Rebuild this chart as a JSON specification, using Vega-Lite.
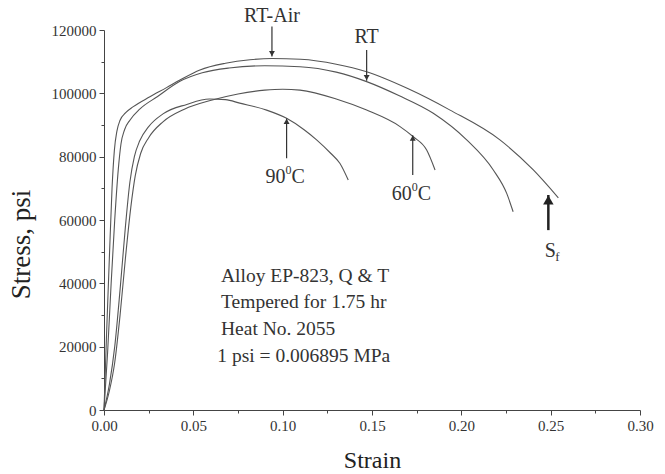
{
  "$schema": "https://vega.github.io/schema/vega-lite/v6.json",
  "width": 536,
  "height": 380,
  "autosize": {"type": "none"},
  "padding": {"left": 104, "top": 30, "right": 25, "bottom": 64},
  "background": "white",
  "config": {
    "view": {"stroke": null},
    "axis": {
      "domainColor": "#444",
      "tickColor": "#444",
      "labelColor": "#333",
      "titleColor": "#222",
      "labelFont": "Liberation Serif",
      "titleFont": "Liberation Serif",
      "titleFontWeight": "normal",
      "grid": false
    },
    "text": {"font": "Liberation Serif", "color": "#333"}
  },
  "datasets": {
    "curves": [
      {"series": "RT-Air", "strain": 0, "stress": 0},
      {"series": "RT-Air", "strain": 0.0015, "stress": 25000},
      {"series": "RT-Air", "strain": 0.003, "stress": 48000},
      {"series": "RT-Air", "strain": 0.0045, "stress": 70000},
      {"series": "RT-Air", "strain": 0.0058, "stress": 82000},
      {"series": "RT-Air", "strain": 0.0072, "stress": 88000},
      {"series": "RT-Air", "strain": 0.009, "stress": 91500},
      {"series": "RT-Air", "strain": 0.012, "stress": 93800},
      {"series": "RT-Air", "strain": 0.0164, "stress": 95800},
      {"series": "RT-Air", "strain": 0.0257, "stress": 98900},
      {"series": "RT-Air", "strain": 0.035, "stress": 101800},
      {"series": "RT-Air", "strain": 0.0425, "stress": 104200},
      {"series": "RT-Air", "strain": 0.0537, "stress": 107400},
      {"series": "RT-Air", "strain": 0.068, "stress": 109500},
      {"series": "RT-Air", "strain": 0.0817, "stress": 110600},
      {"series": "RT-Air", "strain": 0.094, "stress": 111000},
      {"series": "RT-Air", "strain": 0.11, "stress": 110750},
      {"series": "RT-Air", "strain": 0.13, "stress": 109200},
      {"series": "RT-Air", "strain": 0.147, "stress": 106800},
      {"series": "RT-Air", "strain": 0.17, "stress": 101500},
      {"series": "RT-Air", "strain": 0.1937, "stress": 94700},
      {"series": "RT-Air", "strain": 0.2216, "stress": 85300},
      {"series": "RT-Air", "strain": 0.2403, "stress": 75800},
      {"series": "RT-Air", "strain": 0.2543, "stress": 67000},

      {"series": "RT", "strain": 0, "stress": 0},
      {"series": "RT", "strain": 0.002, "stress": 18000},
      {"series": "RT", "strain": 0.004, "stress": 40000},
      {"series": "RT", "strain": 0.006, "stress": 60000},
      {"series": "RT", "strain": 0.008, "stress": 76000},
      {"series": "RT", "strain": 0.0095, "stress": 84000},
      {"series": "RT", "strain": 0.0115, "stress": 88500},
      {"series": "RT", "strain": 0.0146, "stress": 91600},
      {"series": "RT", "strain": 0.02, "stress": 95000},
      {"series": "RT", "strain": 0.03, "stress": 99000},
      {"series": "RT", "strain": 0.0425, "stress": 103800},
      {"series": "RT", "strain": 0.055, "stress": 106500},
      {"series": "RT", "strain": 0.07, "stress": 108000},
      {"series": "RT", "strain": 0.09, "stress": 108700},
      {"series": "RT", "strain": 0.1097, "stress": 108400},
      {"series": "RT", "strain": 0.13, "stress": 106700},
      {"series": "RT", "strain": 0.147, "stress": 103700},
      {"series": "RT", "strain": 0.165, "stress": 99300},
      {"series": "RT", "strain": 0.1843, "stress": 93700},
      {"series": "RT", "strain": 0.203, "stress": 85300},
      {"series": "RT", "strain": 0.2179, "stress": 75800},
      {"series": "RT", "strain": 0.2254, "stress": 68400},
      {"series": "RT", "strain": 0.229, "stress": 62600},

      {"series": "60C", "strain": 0, "stress": 0},
      {"series": "60C", "strain": 0.003, "stress": 6000},
      {"series": "60C", "strain": 0.006, "stress": 15000},
      {"series": "60C", "strain": 0.009, "stress": 30000},
      {"series": "60C", "strain": 0.012, "stress": 48000},
      {"series": "60C", "strain": 0.015, "stress": 64000},
      {"series": "60C", "strain": 0.0175, "stress": 74000},
      {"series": "60C", "strain": 0.0205, "stress": 81000},
      {"series": "60C", "strain": 0.025, "stress": 86000},
      {"series": "60C", "strain": 0.033, "stress": 91000},
      {"series": "60C", "strain": 0.045, "stress": 95000},
      {"series": "60C", "strain": 0.06, "stress": 97800},
      {"series": "60C", "strain": 0.075, "stress": 99800},
      {"series": "60C", "strain": 0.09, "stress": 101000},
      {"series": "60C", "strain": 0.1, "stress": 101300},
      {"series": "60C", "strain": 0.1097, "stress": 101000},
      {"series": "60C", "strain": 0.13, "stress": 98200},
      {"series": "60C", "strain": 0.147, "stress": 94700},
      {"series": "60C", "strain": 0.1657, "stress": 89500},
      {"series": "60C", "strain": 0.1731, "stress": 86300},
      {"series": "60C", "strain": 0.1806, "stress": 82100},
      {"series": "60C", "strain": 0.1853, "stress": 75800},

      {"series": "90C", "strain": 0, "stress": 0},
      {"series": "90C", "strain": 0.003, "stress": 8000},
      {"series": "90C", "strain": 0.006, "stress": 20000},
      {"series": "90C", "strain": 0.009, "stress": 38000},
      {"series": "90C", "strain": 0.012, "stress": 58000},
      {"series": "90C", "strain": 0.0145, "stress": 72000},
      {"series": "90C", "strain": 0.017, "stress": 80000},
      {"series": "90C", "strain": 0.02, "stress": 85000},
      {"series": "90C", "strain": 0.025, "stress": 89500},
      {"series": "90C", "strain": 0.033, "stress": 93500},
      {"series": "90C", "strain": 0.0463, "stress": 96500},
      {"series": "90C", "strain": 0.059, "stress": 98200},
      {"series": "90C", "strain": 0.068, "stress": 98000},
      {"series": "90C", "strain": 0.076, "stress": 96900},
      {"series": "90C", "strain": 0.091, "stress": 94700},
      {"series": "90C", "strain": 0.1022, "stress": 92100},
      {"series": "90C", "strain": 0.112, "stress": 88500},
      {"series": "90C", "strain": 0.119, "stress": 85300},
      {"series": "90C", "strain": 0.127, "stress": 81000},
      {"series": "90C", "strain": 0.132, "stress": 77900},
      {"series": "90C", "strain": 0.1367, "stress": 72600}
    ],
    "arrowsDown": [
      {"label": "RT-Air", "strain": 0.094, "from": 121100, "to": 111600},
      {"label": "RT", "strain": 0.147, "from": 113700, "to": 104000}
    ],
    "arrowsUp": [
      {"label": "90C", "strain": 0.1022, "from": 79500, "to": 92100},
      {"label": "60C", "strain": 0.1728, "from": 74200, "to": 86800}
    ],
    "labels": [
      {"text": "RT-Air", "strain": 0.094, "stress": 122600},
      {"text": "RT", "strain": 0.147, "stress": 115800}
    ],
    "temps": [
      {"num": "90", "sup": "0", "unit": "C", "strain": 0.1022, "stress": 71600},
      {"num": "60", "sup": "0", "unit": "C", "strain": 0.1728, "stress": 66300}
    ],
    "notes": [
      {"text": "Alloy EP-823, Q & T", "strain": 0.0655, "stress": 40400},
      {"text": "Tempered for 1.75 hr", "strain": 0.0655, "stress": 32200},
      {"text": "Heat No. 2055", "strain": 0.0655, "stress": 23700},
      {"text": "1 psi = 0.006895 MPa", "strain": 0.0634, "stress": 15200}
    ],
    "sf": [
      {"strain": 0.2487, "from": 56800, "to": 67900, "label": 48400, "main": "S", "sub": "f"}
    ]
  },
  "resolve": {"axis": {"x": "independent", "y": "independent"}},
  "layer": [
    {
      "data": {"name": "curves"},
      "mark": {"type": "line", "color": "#555", "strokeWidth": 1.1, "interpolate": "monotone", "clip": false},
      "encoding": {
        "x": {
          "field": "strain", "type": "quantitative",
          "scale": {"domain": [0, 0.3], "nice": false, "zero": false},
          "axis": {
            "values": [0, 0.05, 0.1, 0.15, 0.2, 0.25, 0.3],
            "format": ".2f", "labelFontSize": 15, "tickSize": 5, "labelPadding": 3,
            "title": "Strain", "titleFontSize": 24, "titlePadding": 15, "labelFlush": false
          }
        },
        "y": {
          "field": "stress", "type": "quantitative",
          "scale": {"domain": [0, 120000], "nice": false},
          "axis": {
            "values": [0, 20000, 40000, 60000, 80000, 100000, 120000],
            "format": "d", "labelFontSize": 15, "tickSize": 5, "labelPadding": 3,
            "title": "Stress, psi", "titleFontSize": 27, "titlePadding": 16, "titleY": 214
          }
        },
        "detail": {"field": "series"}
      }
    },
    {
      "data": {"name": "arrowsDown"},
      "mark": {"type": "rule", "color": "#333", "strokeWidth": 1.2},
      "encoding": {
        "x": {
          "field": "strain", "type": "quantitative",
          "axis": {
            "values": [0.025, 0.075, 0.125, 0.175, 0.225, 0.275],
            "labels": false, "domain": false, "tickSize": 3, "title": null, "orient": "bottom"
          }
        },
        "y": {
          "field": "from", "type": "quantitative",
          "axis": {
            "values": [10000, 30000, 50000, 70000, 90000, 110000],
            "labels": false, "domain": false, "tickSize": 3, "title": null, "orient": "left"
          }
        },
        "y2": {"field": "to"}
      }
    },
    {
      "data": {"name": "arrowsDown"},
      "mark": {"type": "point", "shape": "triangle-down", "filled": true, "color": "#333", "size": 35, "opacity": 1, "yOffset": -3},
      "encoding": {
        "x": {"field": "strain", "type": "quantitative", "axis": null},
        "y": {"field": "to", "type": "quantitative", "axis": null}
      }
    },
    {
      "data": {"name": "arrowsUp"},
      "mark": {"type": "rule", "color": "#333", "strokeWidth": 1.2},
      "encoding": {
        "x": {"field": "strain", "type": "quantitative", "axis": null},
        "y": {"field": "from", "type": "quantitative", "axis": null},
        "y2": {"field": "to"}
      }
    },
    {
      "data": {"name": "arrowsUp"},
      "mark": {"type": "point", "shape": "triangle-up", "filled": true, "color": "#333", "size": 35, "opacity": 1, "yOffset": 3},
      "encoding": {
        "x": {"field": "strain", "type": "quantitative", "axis": null},
        "y": {"field": "to", "type": "quantitative", "axis": null}
      }
    },
    {
      "data": {"name": "sf"},
      "mark": {"type": "rule", "color": "#222", "strokeWidth": 2.5},
      "encoding": {
        "x": {"field": "strain", "type": "quantitative", "axis": null},
        "y": {"field": "from", "type": "quantitative", "axis": null},
        "y2": {"field": "to"}
      }
    },
    {
      "data": {"name": "sf"},
      "mark": {"type": "point", "shape": "triangle-up", "filled": true, "color": "#222", "size": 110, "opacity": 1, "yOffset": 5},
      "encoding": {
        "x": {"field": "strain", "type": "quantitative", "axis": null},
        "y": {"field": "to", "type": "quantitative", "axis": null}
      }
    },
    {
      "data": {"name": "labels"},
      "mark": {"type": "text", "fontSize": 20, "align": "center", "baseline": "alphabetic"},
      "encoding": {
        "x": {"field": "strain", "type": "quantitative", "axis": null},
        "y": {"field": "stress", "type": "quantitative", "axis": null},
        "text": {"field": "text"}
      }
    },
    {
      "data": {"name": "temps"},
      "mark": {"type": "text", "fontSize": 20, "align": "right", "baseline": "alphabetic", "dx": -1},
      "encoding": {
        "x": {"field": "strain", "type": "quantitative", "axis": null},
        "y": {"field": "stress", "type": "quantitative", "axis": null},
        "text": {"field": "num"}
      }
    },
    {
      "data": {"name": "temps"},
      "mark": {"type": "text", "fontSize": 12, "align": "left", "baseline": "alphabetic", "dx": -1, "dy": -9},
      "encoding": {
        "x": {"field": "strain", "type": "quantitative", "axis": null},
        "y": {"field": "stress", "type": "quantitative", "axis": null},
        "text": {"field": "sup"}
      }
    },
    {
      "data": {"name": "temps"},
      "mark": {"type": "text", "fontSize": 20, "align": "left", "baseline": "alphabetic", "dx": 5},
      "encoding": {
        "x": {"field": "strain", "type": "quantitative", "axis": null},
        "y": {"field": "stress", "type": "quantitative", "axis": null},
        "text": {"field": "unit"}
      }
    },
    {
      "data": {"name": "sf"},
      "mark": {"type": "text", "fontSize": 20, "align": "center", "baseline": "alphabetic", "dx": 2},
      "encoding": {
        "x": {"field": "strain", "type": "quantitative", "axis": null},
        "y": {"field": "label", "type": "quantitative", "axis": null},
        "text": {"field": "main"}
      }
    },
    {
      "data": {"name": "sf"},
      "mark": {"type": "text", "fontSize": 13, "align": "left", "baseline": "alphabetic", "dx": 7, "dy": 4},
      "encoding": {
        "x": {"field": "strain", "type": "quantitative", "axis": null},
        "y": {"field": "label", "type": "quantitative", "axis": null},
        "text": {"field": "sub"}
      }
    },
    {
      "data": {"name": "notes"},
      "mark": {"type": "text", "fontSize": 19.5, "align": "left", "baseline": "alphabetic"},
      "encoding": {
        "x": {"field": "strain", "type": "quantitative", "axis": null},
        "y": {"field": "stress", "type": "quantitative", "axis": null},
        "text": {"field": "text"}
      }
    }
  ]
}
